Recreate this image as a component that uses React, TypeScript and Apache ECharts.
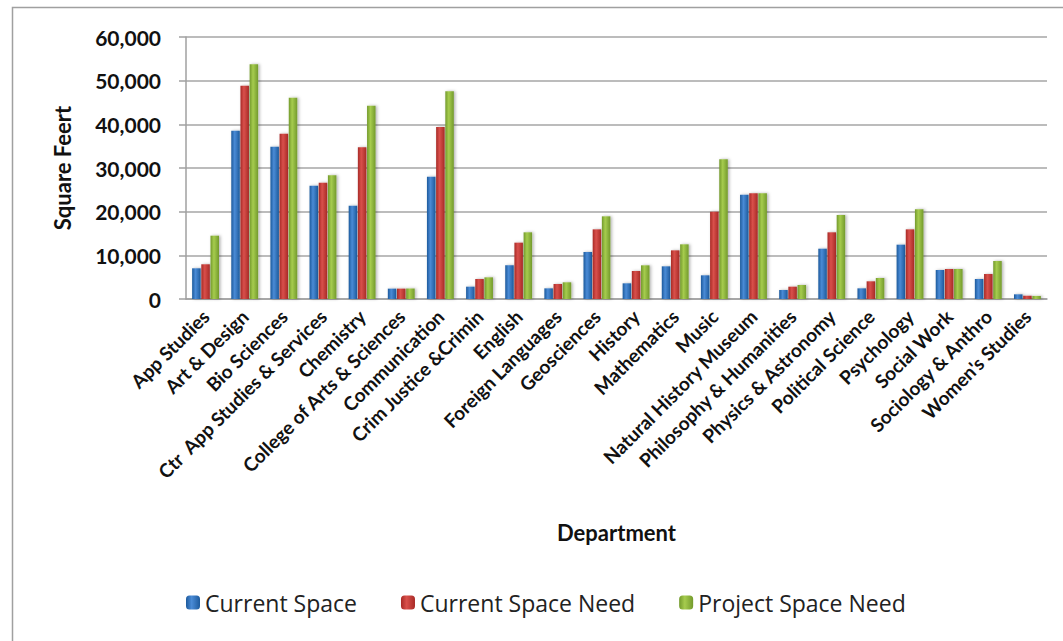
import React, { useEffect, useRef } from "react";
import * as echarts from "echarts";

const categories = [
  "App Studies",
  "Art & Design",
  "Bio Sciences",
  "Ctr  App Studies & Services",
  "Chemistry",
  "College of Arts & Sciences",
  "Communication",
  "Crim Justice &Crimin",
  "English",
  "Foreign Languages",
  "Geosciences",
  "History",
  "Mathematics",
  "Music",
  "Natural History Museum",
  "Philosophy & Humanities",
  "Physics & Astronomy",
  "Political Science",
  "Psychology",
  "Social Work",
  "Sociology & Anthro",
  "Women's Studies",
];

const currentSpace = [7030, 38550, 34890, 25950, 21380, 2370, 28020, 2820, 7710, 2440, 10760, 3590, 7480, 5420, 23900, 2060, 11520, 2440, 12440, 6640, 4580, 1070];
const currentSpaceNeed = [7950, 48850, 37860, 26640, 34730, 2370, 39390, 4580, 12900, 3430, 15950, 6410, 11140, 20000, 24200, 2820, 15270, 4050, 15950, 6870, 5730, 760];
const projectSpaceNeed = [14500, 53740, 46110, 28320, 44280, 2400, 47560, 4960, 15270, 3820, 18930, 7710, 12520, 31980, 24200, 3200, 19240, 4810, 20530, 6870, 8700, 700];

const seriesNames = ["Current Space", "Current Space Need", "Project Space Need"];
const yTicks = [0, 10000, 20000, 30000, 40000, 50000, 60000];

function grad(dark: string, light: string) {
  return new echarts.graphic.LinearGradient(0, 0, 1, 0, [
    { offset: 0, color: dark },
    { offset: 0.4, color: light },
    { offset: 1, color: dark },
  ]);
}

export default function App() {
  const ref = useRef<HTMLDivElement>(null);
  useEffect(() => {
    if (!ref.current) return;
    const chart = echarts.init(ref.current, undefined, { renderer: "svg" });
    const colors = [
      grad("#1d5a9c", "#4a8bd6"),
      grad("#a82a26", "#d9504b"),
      grad("#739a2c", "#a6cc4e"),
    ];
    const datas = [currentSpace, currentSpaceNeed, projectSpaceNeed];
    chart.setOption({
      animation: false,
      backgroundColor: "#ffffff",
      graphic: [
        {
          type: "rect",
          shape: { x: 12.5, y: 7.5, width: 1200, height: 800 },
          style: { fill: "none", stroke: "#a0a0a0", lineWidth: 1.5 },
          silent: true,
        },
      ],
      grid: { left: 186, top: 37, right: 16, bottom: 342, containLabel: false },
      legend: {
        left: 181,
        top: 586,
        itemWidth: 14,
        itemHeight: 14,
        itemGap: 44,
        data: seriesNames,
        textStyle: { fontFamily: "Open Sans", fontSize: 23, color: "#222" },
      },
      xAxis: {
        type: "category",
        data: categories,
        name: "Department",
        nameLocation: "middle",
        nameGap: 222,
        nameTextStyle: { fontFamily: "Lato", fontWeight: "bold", fontSize: 22, color: "#111" },
        axisLine: { lineStyle: { color: "#a0a0a0", width: 1.5 } },
        axisTick: { show: false },
        axisLabel: {
          rotate: 45,
          interval: 0,
          margin: 14,
          fontFamily: "Lato",
          fontWeight: "bold",
          fontSize: 19,
          color: "#111",
        },
      },
      yAxis: {
        type: "value",
        min: yTicks[0],
        max: yTicks[yTicks.length - 1],
        interval: 10000,
        name: "Square Feert",
        nameLocation: "middle",
        nameGap: 113,
        nameTextStyle: { fontFamily: "Lato", fontWeight: "bold", fontSize: 22, color: "#111" },
        axisLine: { show: true, lineStyle: { color: "#a0a0a0", width: 1.5 } },
        axisTick: { show: true, inside: false, length: 7, lineStyle: { color: "#a0a0a0", width: 1.5 } },
        splitLine: { lineStyle: { color: "#a6a6a6", width: 1.5 } },
        axisLabel: {
          margin: 25,
          fontFamily: "Lato",
          fontWeight: "bold",
          fontSize: 21,
          color: "#111",
          formatter: (v: number) => v.toLocaleString("en-US"),
        },
      },
      series: seriesNames.map((name, i) => ({
        name,
        type: "bar",
        data: datas[i],
        barWidth: 8.5,
        barGap: "8%",
        itemStyle: {
          color: colors[i],
          shadowColor: "rgba(0,0,0,0.3)",
          shadowBlur: 3,
          shadowOffsetX: 1.5,
          shadowOffsetY: 0,
        },
      })),
    });
    return () => chart.dispose();
  }, []);
  return (
    <div
      ref={ref}
      style={{ position: "absolute", left: 0, top: 0, width: 1063, height: 641 }}
    />
  );
}
